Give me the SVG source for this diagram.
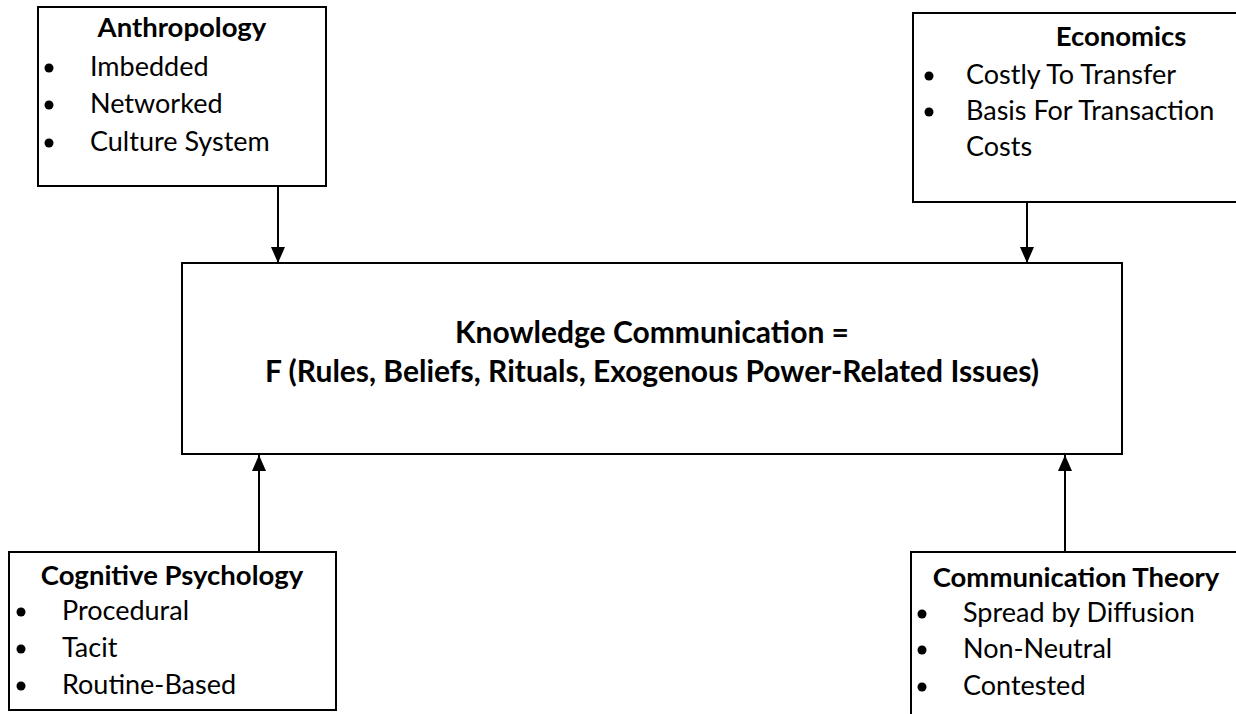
<svg xmlns="http://www.w3.org/2000/svg" width="1236" height="714" viewBox="0 0 1236 714">
<style>
.box{fill:#fff;stroke:#000;stroke-width:2}
.t{font-family:Lato,"Liberation Sans",sans-serif;font-size:27px;fill:#000}
.b{font-weight:bold;font-size:27.5px}
.k{font-size:30px}
.m{text-anchor:middle}
.dot{fill:#000}
.c{stroke:#000;stroke-width:2;fill:none;marker-end:url(#ah)}
</style>
<defs>
<marker id="ah" viewBox="0 0 16 14" refX="16" refY="7" markerWidth="16" markerHeight="14" markerUnits="userSpaceOnUse" orient="auto">
<path d="M0,0 L16,7 L0,14 Z" fill="#000"/>
</marker>
</defs>
<rect width="1236" height="714" fill="#fff"/>
<g id="connectors">
<line class="c" x1="278" y1="186" x2="278" y2="263"/>
<line class="c" x1="1027" y1="202" x2="1027" y2="263"/>
<line class="c" x1="259" y1="552" x2="259" y2="455"/>
<line class="c" x1="1065" y1="552" x2="1065" y2="455"/>
</g>
<g id="anthropology">
<rect class="box" x="38" y="7" width="288" height="179"/>
<text class="t b m" x="182" y="37">Anthropology</text>
<circle class="dot" cx="49" cy="68" r="4.5"/>
<circle class="dot" cx="49" cy="105" r="4.5"/>
<circle class="dot" cx="49" cy="143" r="4.5"/>
<text class="t" x="90" y="76">Imbedded</text>
<text class="t" x="90" y="113">Networked</text>
<text class="t" x="90" y="151">Culture System</text>
</g>
<g id="economics">
<rect class="box" x="913" y="13" width="340" height="189"/>
<text class="t b m" x="1121" y="46">Economics</text>
<circle class="dot" cx="929" cy="76" r="4.5"/>
<circle class="dot" cx="929" cy="112" r="4.5"/>
<text class="t" x="966" y="84">Costly To Transfer</text>
<text class="t" x="966" y="120">Basis For Transaction</text>
<text class="t" x="966" y="156">Costs</text>
</g>
<g id="knowledge">
<rect class="box" x="182" y="263" width="940" height="191"/>
<text class="t b k m" x="652" y="343">Knowledge Communication =</text>
<text class="t b k m" x="652" y="382">F (Rules, Beliefs, Rituals, Exogenous Power-Related Issues)</text>
</g>
<g id="cognitive">
<rect class="box" x="9" y="552" width="327" height="158"/>
<text class="t b m" x="172" y="585">Cognitive Psychology</text>
<circle class="dot" cx="21" cy="612" r="4.5"/>
<circle class="dot" cx="21" cy="649" r="4.5"/>
<circle class="dot" cx="21" cy="686" r="4.5"/>
<text class="t" x="62" y="620">Procedural</text>
<text class="t" x="62" y="657">Tacit</text>
<text class="t" x="62" y="694">Routine-Based</text>
</g>
<g id="communication">
<rect class="box" x="911" y="552" width="340" height="180"/>
<text class="t b m" x="1076" y="587">Communication Theory</text>
<circle class="dot" cx="922" cy="614" r="4.5"/>
<circle class="dot" cx="922" cy="650" r="4.5"/>
<circle class="dot" cx="922" cy="687" r="4.5"/>
<text class="t" x="963" y="622">Spread by Diffusion</text>
<text class="t" x="963" y="658">Non-Neutral</text>
<text class="t" x="963" y="695">Contested</text>
</g>
</svg>
